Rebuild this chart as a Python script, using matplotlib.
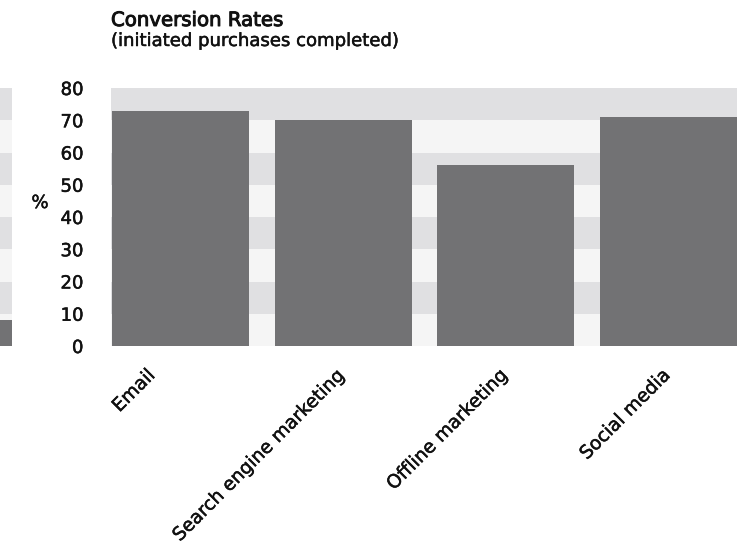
import matplotlib
matplotlib.use("Agg")
import matplotlib.pyplot as plt
import matplotlib.transforms as mtransforms
import matplotlib.patheffects as pe
import numpy as np

plt.rcParams['font.family'] = ['DejaVu Sans']

# Conversion rates per channel (%)
channels = ["Email", "Search engine marketing", "Offline marketing", "Social media"]
rates = [73, 70, 56, 71]

# Last bar of the neighbouring panel, cut off at the left edge
neighbour_rate = [8]

y_ticks = [0, 10, 20, 30, 40, 50, 60, 70, 80]

BAR = "#727274"
BAND_DARK = "#e0e0e2"
BAND_LIGHT = "#f5f5f5"
TEXT = "#111111"
FS = 13

# slightly heavier strokes than the regular face
medium = [pe.withStroke(linewidth=0.35, foreground=TEXT)]
heavy = [pe.withStroke(linewidth=0.7, foreground=TEXT)]

fig = plt.figure(figsize=(7.49, 5.5), dpi=100)
W, H = 749, 550


def draw_bands(ax):
    for i, lo in enumerate(y_ticks[:-1]):
        hi = y_ticks[i + 1]
        color = BAND_DARK if (len(y_ticks) - 2 - i) % 2 == 0 else BAND_LIGHT
        ax.axhspan(lo, hi, color=color, lw=0, zorder=0)


def strip(ax):
    for s in ax.spines.values():
        s.set_visible(False)


# neighbouring panel sliver
axl = fig.add_axes([0, 1 - 346 / H, 12 / W, 258 / H])
draw_bands(axl)
axl.bar([0], neighbour_rate, width=0.842, color=BAR, zorder=2)
axl.set_xlim(0.30, 0.421)
axl.set_ylim(0, 80)
axl.set_xticks([])
axl.set_yticks([])
strip(axl)

# main panel
ax = fig.add_axes([111 / W, 1 - 346 / H, 626 / W, 258 / H])
draw_bands(ax)
x = np.arange(len(channels))
ax.bar(x, rates, width=0.842, color=BAR, zorder=2)
ax.set_xlim(-0.427, 3.421)
ax.set_ylim(0, 80)
strip(ax)

ax.set_yticks(y_ticks)
ax.set_yticklabels([str(v) for v in y_ticks], fontsize=FS, color=TEXT)
ax.tick_params(axis='y', length=0, pad=20)
for t in ax.get_yticklabels():
    t.set_path_effects(medium)

ax.set_xticks(x)
ax.set_xticklabels(channels, fontsize=13.4, rotation=45, ha='right',
                   va='top', rotation_mode='anchor', color=TEXT)
ax.tick_params(axis='x', length=0, pad=14)
for i, t in enumerate(ax.get_xticklabels()):
    t.set_path_effects(medium)
    dx = -8 - (27 if i == 0 else 0)
    t.set_transform(t.get_transform() +
                    mtransforms.ScaledTranslation(dx / 100, 0, fig.dpi_scale_trans))

ax.set_ylabel('%', rotation=0, fontsize=FS, ha='center', va='center', color=TEXT,
              path_effects=medium)
ax.yaxis.set_label_coords((40 - 111) / 626, (346 - 203) / 258)

fig.text(111 / W, 1 - 26 / H, "Conversion Rates", fontsize=14.2,
         ha='left', va='baseline', color=TEXT, path_effects=heavy)
fig.text(111 / W, 1 - 46 / H, "(initiated purchases completed)", fontsize=FS,
         ha='left', va='baseline', color=TEXT, path_effects=medium)

fig.savefig("out.png", dpi=100)
